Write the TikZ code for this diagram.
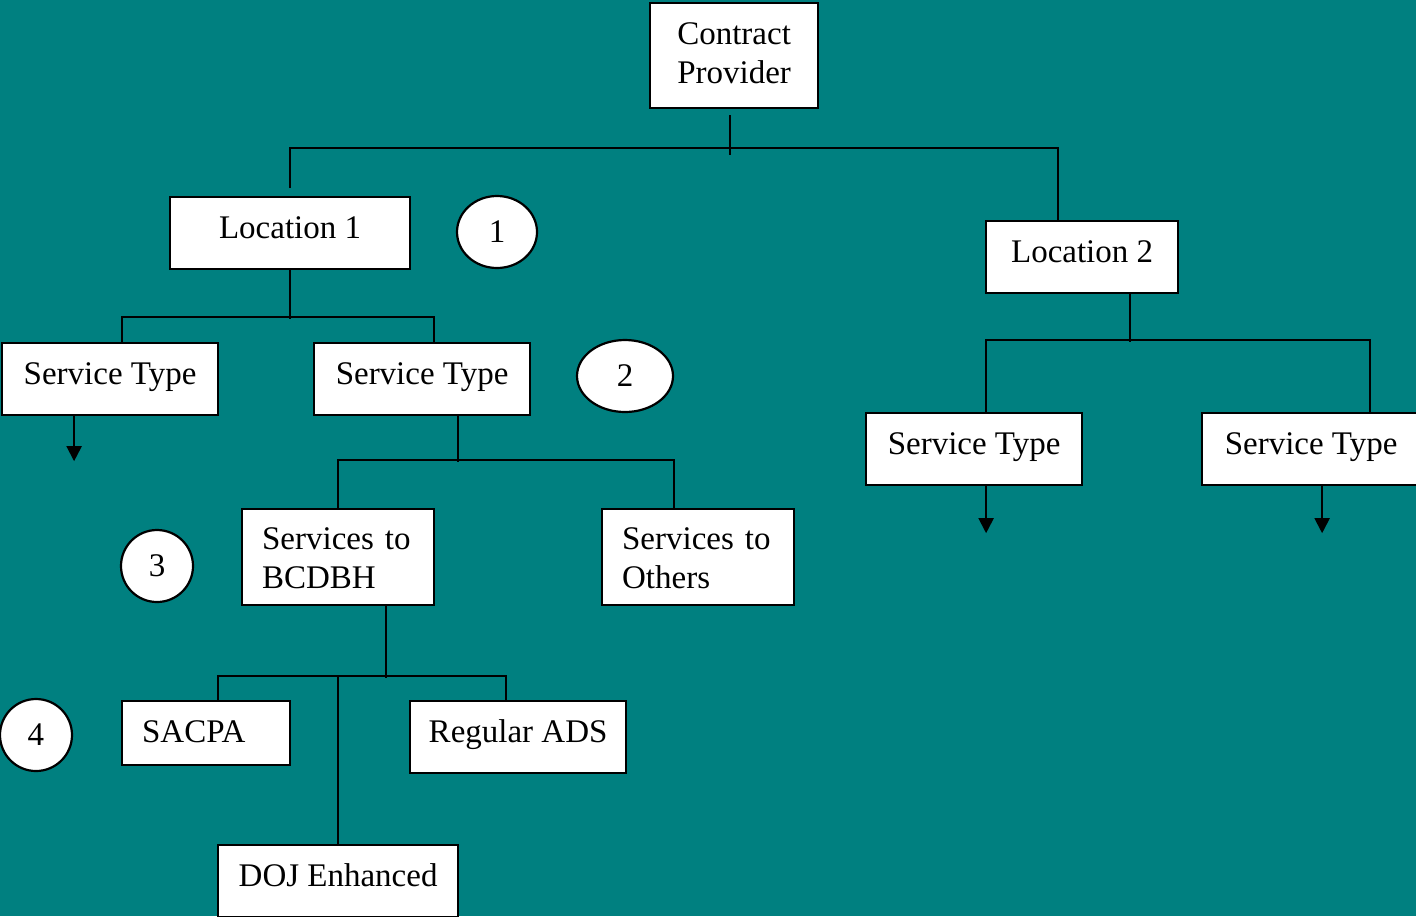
\documentclass[tikz,border=0pt]{standalone}
\usepackage{fontspec}
\setmainfont{Liberation Serif}
\usetikzlibrary{shapes.geometric, arrows.meta}
\definecolor{bgteal}{RGB}{0,128,128}

\begin{document}
\begin{tikzpicture}[x=0.5pt, y=-0.5pt, line width=1pt,
  box/.style={draw, fill=white, line width=1.1pt, anchor=north west, inner sep=0pt,
    align=left, font=\fontsize{16.5}{19.5}\selectfont, text height=20.5pt, text depth=15.5pt},
  num/.style={ellipse, draw, fill=white, line width=1.1pt, inner sep=0pt,
    font=\fontsize{16.5}{19.5}\selectfont},
  down arrow/.style={-{Triangle[width=7.5pt, length=7.5pt]}}]

\useasboundingbox (0,0) rectangle (1416,916);
\fill[bgteal] (0,0) rectangle (1416,916);

\node[box, minimum width=84pt, text height=40pt, text depth=12.5pt] (provider) at (649,2) {Contract\\Provider};
\node[box, minimum width=120pt] (loc1) at (169,196) {Location 1};
\node[box, minimum width=96pt] (loc2) at (985,220) {Location 2};
\node[box, minimum width=108pt] (typeA) at (1,342) {Service Type};
\node[box, minimum width=108pt] (typeB) at (313,342) {Service Type};
\node[box, minimum width=108pt] (typeC) at (865,412) {Service Type};
\node[box, minimum width=109pt] (typeD) at (1201,412) {Service Type};
\node[box, inner xsep=10pt, text width=76pt, text height=20pt, text depth=28pt] (bcdbh) at (241,508) {Services to\\BCDBH};
\node[box, inner xsep=10pt, text width=76pt, text height=20pt, text depth=28pt] (others) at (601,508) {Services to\\Others};
\node[box, inner xsep=10pt, text width=64pt, text depth=11.5pt] (sacpa) at (121,700) {SACPA};
\node[box, minimum width=108pt] (ads) at (409,700) {Regular ADS};
\node[box, minimum width=120pt] (doj) at (217,844) {DOJ Enhanced};

\node[num, minimum width=40pt, minimum height=36pt] (one) at (497,232) {1};
\node[num, minimum width=48pt, minimum height=36pt] (two) at (625,376) {2};
\node[num, minimum width=36pt, minimum height=36pt] (three) at (157,566) {3};
\node[num, minimum width=36pt, minimum height=36pt] (four) at (36,735) {4};

% contract provider to locations
\draw (provider.south) ++(-4,6) -- ++(0,40);
\draw ([yshift=4pt]loc1.north) -- ++(0,-40) -| ([xshift=-12pt]loc2.north);

% location 1
\draw (loc1.south) -- ++(0,49);
\draw ([xshift=6pt]typeA.north) -- ++(0,-25) -| ([xshift=6pt]typeB.north);
\draw[down arrow] ([xshift=-18pt]typeA.south) -- ++(0,45);

% service type to services
\draw ([xshift=18pt]typeB.south) -- ++(0,46);
\draw (bcdbh.north) -- ++(0,-48) -| ([xshift=-12pt]others.north);

% location 2
\draw ([xshift=24pt]loc2.south) -- ++(0,48);
\draw ([xshift=6pt]typeC.north) -- ++(0,-72) -| ([xshift=29.5pt]typeD.north);
\draw[down arrow] ([xshift=6pt]typeC.south) -- ++(0,47);
\draw[down arrow] ([xshift=5.5pt]typeD.south) -- ++(0,47);

% services to bcdbh
\draw ([xshift=24pt]bcdbh.south) -- ++(0,72);
\draw ([xshift=6pt]sacpa.north) -- ++(0,-24) -| ([xshift=-6pt]ads.north);
\draw (doj.north) -- ++(0,-168);

\end{tikzpicture}
\end{document}
